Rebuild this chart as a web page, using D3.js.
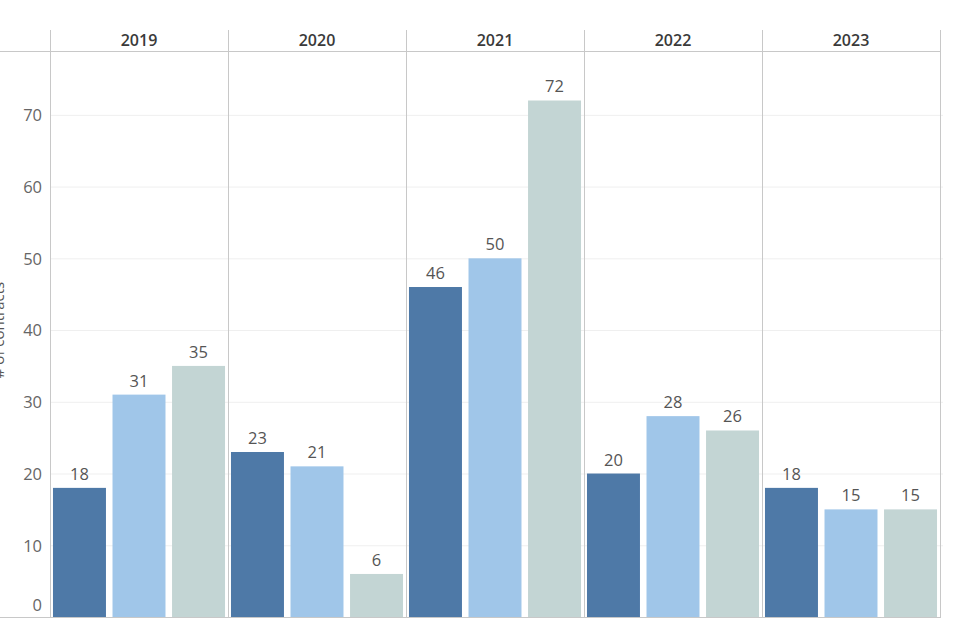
<!DOCTYPE html>
<html><head><meta charset="utf-8">
<script src="https://cdn.jsdelivr.net/npm/d3@7"></script>
<style>
body{margin:0;background:#fff;}
svg{display:block;font-family:"Open Sans",Lato,sans-serif;}
</style></head>
<body><svg id="chart" width="954" height="631"></svg>
<script>
const years = ["2019","2020","2021","2022","2023"];
const seriesNames = ["Series 1","Series 2","Series 3"];
const series1 = [18,23,46,20,18];
const series2 = [31,21,50,28,15];
const series3 = [35,6,72,26,15];
const yTicks = [0,10,20,30,40,50,60,70];
const colors = ["#4e79a7","#a0c6e9","#c3d5d4"];

const svg = d3.select("#chart");
const mLeft = 50, mRight = 940, mTop = 51, headerTop = 30, mBottom = 617;

const x0 = d3.scaleBand().domain(years).range([mLeft, mRight]);
const x1 = d3.scaleBand().domain(seriesNames).range([0, x0.bandwidth()]).paddingInner(0.11).paddingOuter(0.05);
const y = d3.scaleLinear().domain([0, 78.9]).range([mBottom, mTop]);

const data = years.map((yr,i)=>({year:yr, vals:[series1[i],series2[i],series3[i]]}));

// gridlines
svg.append("g").selectAll("line").data(yTicks.filter(t=>t>0)).join("line")
  .attr("x1", mLeft).attr("x2", mRight+3)
  .attr("y1", d=>y(d)+0.5).attr("y2", d=>y(d)+0.5)
  .attr("stroke", "#efefef").attr("stroke-width", 1);

// y axis labels
const yAxis = d3.axisLeft(y).tickValues(yTicks).tickSize(0).tickPadding(8);
const ga = svg.append("g").attr("transform", `translate(${mLeft},0)`).call(yAxis);
ga.select(".domain").remove();
ga.selectAll("text").attr("font-size", 16.5).attr("fill", "#666").attr("font-family","'Open Sans',Lato,sans-serif")
  .attr("x", -8)
  .attr("dy", d => d===0 ? "-0.4em" : "0.35em");

// y title (cut off at the left edge, as in the reference)
svg.append("text").attr("transform", `translate(4,${(275+385)/2}) rotate(-90)`)
  .attr("text-anchor","middle").attr("font-size",15).attr("fill","#555")
  .text("# of contracts");

// bars
const groups = svg.append("g").selectAll("g").data(data).join("g")
  .attr("transform", d=>`translate(${x0(d.year)},0)`);
groups.selectAll("rect").data(d=>d.vals.map((v,j)=>({v, s:seriesNames[j], j}))).join("rect")
  .attr("x", d=>x1(d.s)).attr("width", x1.bandwidth())
  .attr("y", d=>y(d.v)).attr("height", d=>y(0)-y(d.v))
  .attr("fill", d=>colors[d.j]);
groups.selectAll("text").data(d=>d.vals.map((v,j)=>({v, s:seriesNames[j], j}))).join("text")
  .attr("x", d=>x1(d.s)+x1.bandwidth()/2).attr("y", d=>y(d.v)-8)
  .attr("text-anchor","middle").attr("font-size",16.5).attr("fill","#555")
  .text(d=>d.v);

// panel separators
const seps = years.map(yr=>x0(yr)).concat([mRight]);
svg.append("g").selectAll("line").data(seps).join("line")
  .attr("x1", d=>d+0.5).attr("x2", d=>d+0.5)
  .attr("y1", headerTop).attr("y2", mBottom)
  .attr("stroke", "#c8c8c8").attr("stroke-width", 1);

// header line and baseline
svg.append("line").attr("x1",0).attr("x2",mRight+1).attr("y1",mTop+0.5).attr("y2",mTop+0.5)
  .attr("stroke","#c8c8c8");
svg.append("line").attr("x1",0).attr("x2",mRight+1).attr("y1",mBottom+0.5).attr("y2",mBottom+0.5)
  .attr("stroke","#c8c8c8");

// year headers
svg.append("g").selectAll("text").data(years).join("text")
  .attr("x", d=>x0(d)+x0.bandwidth()/2).attr("y", 46)
  .attr("text-anchor","middle").attr("font-size",16).attr("font-weight",600).attr("fill","#3a3a3a")
  .text(d=>d);
</script></body></html>
